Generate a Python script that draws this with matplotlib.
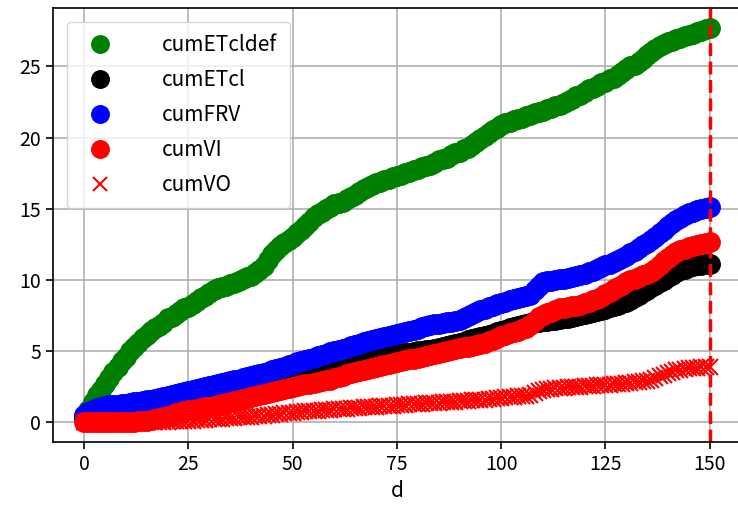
import matplotlib
matplotlib.use("Agg")
import matplotlib.pyplot as plt
from matplotlib.ticker import MultipleLocator

plt.rcParams['font.family'] = ['Noto Sans CJK SC', 'DejaVu Sans']
plt.rcParams['axes.unicode_minus'] = False

# day index 0..150
days = list(range(151))

cumETcldef = [
    0.4, 0.9, 1.4, 1.9, 2.3, 2.7, 3.1, 3.5, 3.9, 4.3,
    4.6, 5.0, 5.3, 5.6, 5.9, 6.1, 6.4, 6.6, 6.8, 7.0,
    7.3, 7.4, 7.6, 7.8, 8.0, 8.1, 8.3, 8.5, 8.7, 8.9,
    9.1, 9.3, 9.4, 9.5, 9.6, 9.7, 9.8, 9.9, 10.1, 10.2,
    10.3, 10.5, 10.7, 11.0, 11.4, 11.8, 12.1, 12.4, 12.6, 12.8,
    13.0, 13.3, 13.5, 13.8, 14.1, 14.4, 14.6, 14.8, 15.0, 15.1,
    15.3, 15.4, 15.5, 15.7, 15.8, 16.0, 16.2, 16.4, 16.5, 16.7,
    16.8, 16.9, 17.0, 17.1, 17.2, 17.3, 17.4, 17.5, 17.6, 17.7,
    17.8, 17.9, 18.0, 18.1, 18.2, 18.4, 18.5, 18.6, 18.8, 18.9,
    19.0, 19.2, 19.3, 19.5, 19.7, 19.9, 20.1, 20.3, 20.5, 20.7,
    20.9, 21.0, 21.1, 21.2, 21.3, 21.4, 21.5, 21.6, 21.7, 21.8,
    21.9, 22.0, 22.1, 22.2, 22.3, 22.4, 22.6, 22.7, 22.9, 23.0,
    23.2, 23.4, 23.5, 23.6, 23.8, 23.9, 24.1, 24.2, 24.4, 24.6,
    24.8, 25.0, 25.1, 25.3, 25.5, 25.8, 26.0, 26.2, 26.4, 26.6,
    26.7, 26.8, 26.9, 27.0, 27.1, 27.2, 27.3, 27.4, 27.5, 27.6,
    27.7,
]

cumETcl = [
    0.3, 0.45, 0.6, 0.65, 0.7, 0.74, 0.78, 0.8, 0.84, 0.87,
    0.9, 0.94, 0.98, 1.02, 1.06, 1.1, 1.15, 1.2, 1.25, 1.3,
    1.36, 1.42, 1.48, 1.54, 1.6, 1.65, 1.7, 1.76, 1.82, 1.88,
    1.94, 2.0, 2.06, 2.13, 2.2, 2.27, 2.34, 2.41, 2.48, 2.55,
    2.62, 2.7, 2.77, 2.83, 2.89, 2.95, 3.01, 3.07, 3.13, 3.19,
    3.25, 3.31, 3.37, 3.43, 3.49, 3.55, 3.61, 3.67, 3.74, 3.8,
    3.88, 3.96, 4.04, 4.12, 4.2, 4.27, 4.34, 4.4, 4.45, 4.5,
    4.55, 4.6, 4.65, 4.7, 4.75, 4.79, 4.83, 4.87, 4.9, 4.94,
    4.98, 5.02, 5.06, 5.1, 5.17, 5.24, 5.31, 5.38, 5.45, 5.52,
    5.6, 5.67, 5.75, 5.83, 5.9, 5.97, 6.05, 6.14, 6.23, 6.32,
    6.42, 6.51, 6.6, 6.68, 6.76, 6.84, 6.92, 6.98, 7.03, 7.07,
    7.1, 7.14, 7.18, 7.22, 7.27, 7.31, 7.36, 7.4, 7.47, 7.54,
    7.61, 7.68, 7.76, 7.83, 7.9, 7.99, 8.08, 8.17, 8.26, 8.36,
    8.45, 8.62, 8.8, 8.97, 9.15, 9.32, 9.5, 9.68, 9.86, 10.03,
    10.2, 10.38, 10.55, 10.68, 10.79, 10.88, 10.95, 11.02, 11.07, 11.11,
    11.15,
]

cumFRV = [
    0.5, 0.7, 0.9, 1.0, 1.1, 1.15, 1.2, 1.22, 1.25, 1.28,
    1.3, 1.35, 1.4, 1.45, 1.5, 1.55, 1.6, 1.65, 1.7, 1.78,
    1.85, 1.92, 2.0, 2.08, 2.15, 2.22, 2.3, 2.36, 2.42, 2.48,
    2.55, 2.6, 2.68, 2.75, 2.8, 2.88, 2.95, 3.0, 3.08, 3.15,
    3.22, 3.3, 3.38, 3.46, 3.55, 3.64, 3.73, 3.82, 3.92, 4.02,
    4.12, 4.22, 4.3, 4.38, 4.46, 4.55, 4.64, 4.73, 4.82, 4.92,
    5.0, 5.08, 5.16, 5.25, 5.33, 5.42, 5.52, 5.62, 5.7, 5.78,
    5.86, 5.93, 6.0, 6.07, 6.14, 6.2, 6.28, 6.35, 6.43, 6.5,
    6.58, 6.66, 6.74, 6.82, 6.88, 6.92, 6.97, 7.02, 7.08, 7.14,
    7.2, 7.32, 7.45, 7.58, 7.72, 7.86, 7.98, 8.08, 8.18, 8.28,
    8.38, 8.48, 8.58, 8.64, 8.7, 8.78, 8.86, 8.95, 9.3, 9.6,
    9.85, 9.92, 9.96, 10.0, 10.04, 10.1, 10.16, 10.22, 10.3, 10.36,
    10.45, 10.55, 10.65, 10.78, 10.9, 11.02, 11.14, 11.28, 11.42, 11.56,
    11.7, 11.88, 12.06, 12.24, 12.42, 12.62, 12.82, 13.05, 13.28, 13.52,
    13.76, 14.0, 14.2, 14.38, 14.54, 14.68, 14.8, 14.9, 14.98, 15.05,
    15.1,
]

cumVI = [
    0.0, 0.0, 0.0, 0.01, 0.01, 0.01, 0.02, 0.02, 0.02, 0.03,
    0.03, 0.04, 0.05, 0.06, 0.08, 0.1, 0.15, 0.22, 0.3, 0.38,
    0.46, 0.54, 0.62, 0.7, 0.77, 0.84, 0.9, 0.96, 1.01, 1.06,
    1.11, 1.17, 1.23, 1.29, 1.35, 1.42, 1.5, 1.57, 1.65, 1.73,
    1.8, 1.88, 1.95, 2.02, 2.09, 2.16, 2.23, 2.3, 2.37, 2.44,
    2.5, 2.56, 2.61, 2.67, 2.72, 2.78, 2.83, 2.89, 2.94, 3.0,
    3.09, 3.18, 3.27, 3.36, 3.45, 3.54, 3.62, 3.7, 3.76, 3.83,
    3.9, 3.96, 4.02, 4.09, 4.15, 4.22, 4.29, 4.35, 4.42, 4.48,
    4.55, 4.62, 4.68, 4.75, 4.82, 4.88, 4.95, 5.01, 5.08, 5.14,
    5.2, 5.26, 5.32, 5.38, 5.44, 5.5, 5.56, 5.68, 5.8, 5.92,
    6.03, 6.14, 6.25, 6.34, 6.43, 6.52, 6.6, 6.85, 7.15, 7.4,
    7.55, 7.67, 7.78, 7.9, 8.0, 8.05, 8.1, 8.15, 8.2, 8.25,
    8.35, 8.46, 8.57, 8.68, 8.8, 8.98, 9.15, 9.33, 9.5, 9.68,
    9.85, 9.97, 10.08, 10.2, 10.32, 10.43, 10.55, 10.8, 11.05, 11.3,
    11.55, 11.78, 11.95, 12.08, 12.2, 12.3, 12.4, 12.48, 12.55, 12.6,
    12.65,
]

cumVO = [
    0.0, 0.0, 0.0, 0.0, 0.0, 0.0, 0.0, 0.0, 0.0, 0.0,
    0.0, 0.0, 0.0, 0.0, 0.0, 0.0, 0.01, 0.02, 0.03, 0.04,
    0.05, 0.06, 0.07, 0.08, 0.09, 0.1, 0.12, 0.14, 0.16, 0.18,
    0.2, 0.22, 0.24, 0.26, 0.28, 0.3, 0.32, 0.34, 0.36, 0.38,
    0.4, 0.42, 0.44, 0.47, 0.5, 0.53, 0.56, 0.59, 0.62, 0.65,
    0.68, 0.71, 0.74, 0.77, 0.79, 0.81, 0.83, 0.85, 0.87, 0.89,
    0.91, 0.93, 0.95, 0.97, 0.99, 1.01, 1.03, 1.05, 1.07, 1.09,
    1.11, 1.13, 1.15, 1.16, 1.18, 1.2, 1.22, 1.24, 1.26, 1.28,
    1.29, 1.31, 1.33, 1.35, 1.37, 1.39, 1.41, 1.42, 1.44, 1.46,
    1.48, 1.5, 1.52, 1.54, 1.56, 1.58, 1.6, 1.63, 1.66, 1.69,
    1.72, 1.75, 1.77, 1.8, 1.83, 1.85, 1.88, 1.9, 2.05, 2.2,
    2.3, 2.34, 2.37, 2.39, 2.41, 2.43, 2.45, 2.47, 2.49, 2.51,
    2.53, 2.55, 2.57, 2.59, 2.61, 2.63, 2.65, 2.67, 2.69, 2.71,
    2.74, 2.77, 2.8, 2.84, 2.88, 2.93, 2.98, 3.1, 3.22, 3.34,
    3.46, 3.56, 3.64, 3.7, 3.75, 3.79, 3.82, 3.85, 3.87, 3.89,
    3.9,
]

last_day = 150

fig, ax = plt.subplots(figsize=(7.38, 5.14), dpi=100)
# the right spine sits just past the image edge in the reference
fig.subplots_adjust(left=0.0718, right=1.004, top=0.984, bottom=0.14)

ax.plot(days, cumETcldef, 'o', color='green', ms=14, label='cumETcldef')
ax.plot(days, cumETcl, 'o', color='black', ms=14, label='cumETcl')
ax.plot(days, cumFRV, 'o', color='blue', ms=14, label='cumFRV')
ax.plot(days, cumVI, 'o', color='red', ms=14, label='cumVI')
ax.plot(days, cumVO, 'x', color='red', ms=11, mew=1.5, label='cumVO')
ax.axvline(last_day, color='red', linestyle='--', lw=2.5)

ax.xaxis.set_major_locator(MultipleLocator(25))
ax.set_xlabel('d', fontsize=15)
ax.tick_params(labelsize=14, width=1.2, length=5)
ax.grid(True, color='#b0b0b0', lw=1.2)
for s in ax.spines.values():
    s.set_linewidth(1.2)

ax.legend(loc='upper left', fontsize=15, markerscale=0.9, handletextpad=2.0,
          borderpad=0.6, labelspacing=0.62, borderaxespad=0.65,
          handlelength=2.0)

fig.savefig('out.png', dpi=100)
